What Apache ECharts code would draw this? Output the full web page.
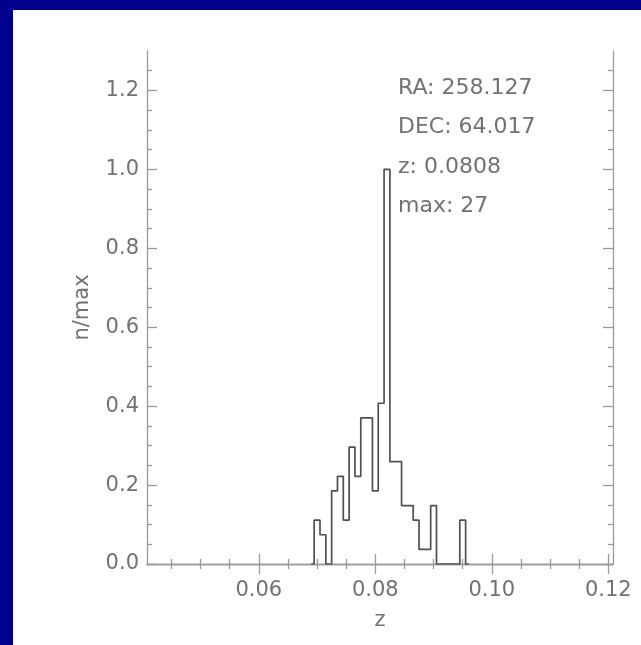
<!DOCTYPE html>
<html>
<head>
<meta charset="utf-8">
<script src="https://cdn.jsdelivr.net/npm/echarts@6/dist/echarts.min.js"></script>
<style>
  html, body { margin: 0; padding: 0; background: #00008c; }
  #chart { width: 641px; height: 645px; }
</style>
</head>
<body>
<div id="chart"></div>
<script>
// Redshift histogram: bin centres (z) and galaxy counts per bin
const binCenters = [0.070, 0.071, 0.072, 0.073, 0.074, 0.075, 0.076, 0.077, 0.078, 0.079,
                    0.080, 0.081, 0.082, 0.083, 0.084, 0.085, 0.086, 0.087, 0.088, 0.089,
                    0.090, 0.091, 0.092, 0.093, 0.094, 0.095];
const binCounts  = [3, 2, 0, 5, 6, 3, 8, 6, 10, 10,
                    5, 11, 27, 7, 7, 4, 4, 3, 1, 1,
                    4, 0, 0, 0, 0, 3];
const binWidth = 0.001;
const maxCount = 27;

// Axis ranges and ticks
const xRange = [0.0408, 0.1208];
const yRange = [0, 1.3];
const xMajorTicks = [0.06, 0.08, 0.10, 0.12];
const xTickLabels = ['0.06', '0.08', '0.10', '0.12'];
const xMinorTicks = [0.045, 0.050, 0.055, 0.065, 0.070, 0.075, 0.085, 0.090, 0.095, 0.105, 0.110, 0.115];
const yMajorTicks = [0, 0.2, 0.4, 0.6, 0.8, 1.0, 1.2];
const yTickLabels = ['0.0', '0.2', '0.4', '0.6', '0.8', '1.0', '1.2'];
const yMinorTicks = [0.05, 0.10, 0.15, 0.25, 0.30, 0.35, 0.45, 0.50, 0.55, 0.65, 0.70, 0.75,
                     0.85, 0.90, 0.95, 1.05, 1.10, 1.15, 1.25];

// Cluster information block
const infoLines = ['RA: 258.127', 'DEC: 64.017', 'z: 0.0808', 'max: 27'];

const FONT = 'DejaVu Sans';
const AXIS_COLOR = '#9a9a9a';
const TEXT_COLOR = '#727272';
const TICK_FONT_SIZE = 21;
const INFO_FONT_SIZE = 22;

// Outline of the histogram: closed to zero half a bin outside the first/last bins
const histData = [[binCenters[0] - binWidth, 0]]
  .concat(binCenters.map((c, i) => [c, binCounts[i] / maxCount]))
  .concat([[binCenters[binCenters.length - 1] + binWidth, 0]]);

function labelFrom(ticks, labels) {
  return v => {
    const i = ticks.findIndex(t => Math.abs(t - v) < 1e-9);
    return i >= 0 ? labels[i] : '';
  };
}

function xAxisDef(position, ticks, len, showLine, withLabels) {
  const a = {
    type: 'value', position: position, min: xRange[0], max: xRange[1],
    splitLine: { show: false },
    axisLine: { show: showLine, lineStyle: { color: AXIS_COLOR, width: 1.3 } },
    axisTick: { show: true, inside: true, length: len, customValues: ticks,
                lineStyle: { color: AXIS_COLOR, width: 1.3 } },
    axisLabel: { show: false }
  };
  if (withLabels) {
    a.axisLabel = { show: true, customValues: xMajorTicks, formatter: labelFrom(xMajorTicks, xTickLabels),
                    margin: 16, color: TEXT_COLOR, fontFamily: FONT, fontSize: TICK_FONT_SIZE };
    a.name = 'z';
    a.nameLocation = 'middle';
    a.nameGap = 46;
    a.nameTextStyle = { color: TEXT_COLOR, fontFamily: FONT, fontSize: TICK_FONT_SIZE };
  }
  return a;
}

function yAxisDef(position, ticks, len, showLine, withLabels) {
  const a = {
    type: 'value', position: position, min: yRange[0], max: yRange[1],
    splitLine: { show: false },
    axisLine: { show: showLine, lineStyle: { color: AXIS_COLOR, width: 1.3 } },
    axisTick: { show: true, inside: true, length: len, customValues: ticks,
                lineStyle: { color: AXIS_COLOR, width: 1.3 } },
    axisLabel: { show: false }
  };
  if (withLabels) {
    a.axisLabel = { show: true, customValues: yMajorTicks, formatter: labelFrom(yMajorTicks, yTickLabels),
                    margin: 8, color: TEXT_COLOR, fontFamily: FONT, fontSize: TICK_FONT_SIZE };
    a.name = 'n/max';
    a.nameLocation = 'middle';
    a.nameRotate = 90;
    a.nameGap = 54;
    a.nameTextStyle = { color: TEXT_COLOR, fontFamily: FONT, fontSize: TICK_FONT_SIZE };
  }
  return a;
}

const chart = echarts.init(document.getElementById('chart'), null, { renderer: 'canvas' });

const infoText = infoLines.map((t, i) => ({
  type: 'text', left: 398, top: 77 + i * 39.5, z: 10,
  style: { text: t, fill: TEXT_COLOR, font: INFO_FONT_SIZE + 'px "' + FONT + '"' }
}));

chart.setOption({
  backgroundColor: '#00008c',
  animation: false,
  graphic: [
    { type: 'rect', shape: { x: 13, y: 10, width: 628, height: 635 }, style: { fill: '#ffffff' }, z: -10 }
  ].concat(infoText),
  grid: { left: 147, right: 28, top: 51, bottom: 81, containLabel: false },
  xAxis: [
    xAxisDef('bottom', xMajorTicks, 10, true, true),
    xAxisDef('bottom', xMinorTicks, 5, false, false),
    xAxisDef('top', xMajorTicks, 10, true, false),
    xAxisDef('top', xMinorTicks, 5, false, false)
  ],
  yAxis: [
    yAxisDef('left', yMajorTicks, 10, true, true),
    yAxisDef('left', yMinorTicks, 5, false, false),
    yAxisDef('right', yMajorTicks, 10, true, false),
    yAxisDef('right', yMinorTicks, 5, false, false)
  ],
  series: [{
    type: 'line',
    xAxisIndex: 0, yAxisIndex: 0,
    step: 'middle',
    data: histData,
    showSymbol: false,
    symbol: 'none',
    lineStyle: { color: '#505050', width: 1.7 },
    z: 5
  }]
});
</script>
</body>
</html>
